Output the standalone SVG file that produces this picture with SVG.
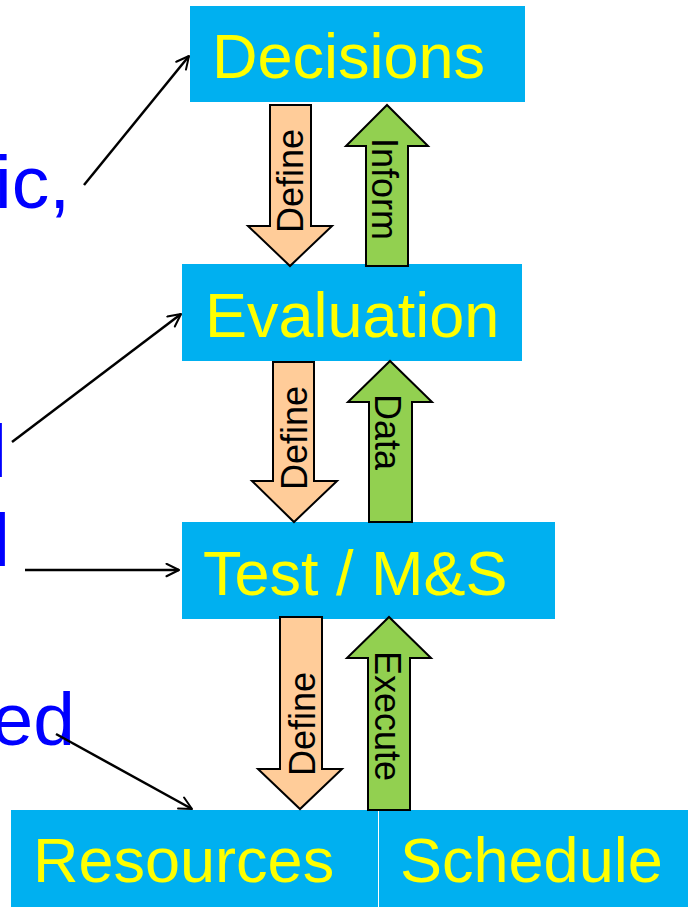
<svg xmlns="http://www.w3.org/2000/svg" width="693" height="909" viewBox="0 0 693 909">
<defs>
<style>
.box{fill:#00B0F0}
.bt{font-family:"Liberation Sans",Arial,sans-serif;font-size:63px;fill:#FFFF00}
.side{font-family:"Liberation Sans",Arial,sans-serif;font-size:75px;fill:#0000FF;text-anchor:end}
.def{fill:#FFCC99;stroke:#000;stroke-width:2}
.grn{fill:#92D050;stroke:#000;stroke-width:2}
.lbl{font-family:"Liberation Sans",Arial,sans-serif;font-size:36px;fill:#000;text-anchor:middle}
.con{fill:none;stroke:#000;stroke-width:2.5;marker-end:url(#open)}
</style>
<marker id="open" viewBox="0 0 12 12" refX="11" refY="6" markerWidth="6" markerHeight="6" markerUnits="strokeWidth" orient="auto">
<path d="M1,1 L11,6 L1,11" fill="none" stroke="#000" stroke-width="1.6" stroke-linecap="round" stroke-linejoin="round"/>
</marker>
</defs>
<rect width="693" height="909" fill="#fff"/>
<g id="side-text">
<text class="side" x="70" y="208">ic,</text>
<text class="side" x="7" y="477">l</text>
<text class="side" x="10" y="566">l</text>
<text class="side" x="75" y="745">ed</text>
</g>
<g id="decisions"><rect class="box" x="190" y="6" width="335" height="96"/><text class="bt" x="212" y="78">Decisions</text></g>
<g id="evaluation"><rect class="box" x="182" y="264" width="340" height="97"/><text class="bt" x="205" y="337">Evaluation</text></g>
<g id="test"><rect class="box" x="182" y="522" width="373" height="97"/><text class="bt" x="203" y="595">Test / M&amp;S</text></g>
<g id="resources"><rect class="box" x="11" y="810" width="367" height="97"/><text class="bt" x="33" y="882">Resources</text></g>
<g id="schedule"><rect class="box" x="379" y="810" width="309" height="97"/><text class="bt" x="400" y="882">Schedule</text></g>
<g id="block-arrows">
<g id="define1"><polygon class="def" points="270,105 311,105 311,226 332,226 290,266 248,226 270,226"/><text class="lbl" transform="translate(303,181) rotate(-90)">Define</text></g>
<g id="inform"><polygon class="grn" points="366,266 408,266 408,146 428,146 387,105 346,146 366,146"/><text class="lbl" transform="translate(372,189) rotate(90)">Inform</text></g>
<g id="define2"><polygon class="def" points="273,362 314,362 314,481 337,481 294,522 252,481 273,481"/><text class="lbl" transform="translate(307,438) rotate(-90)">Define</text></g>
<g id="data"><polygon class="grn" points="369,522 412,522 412,402 432,402 390,361 348,402 369,402"/><text class="lbl" transform="translate(375,432) rotate(90)">Data</text></g>
<g id="define3"><polygon class="def" points="280,617 322,617 322,769 342,769 300,809 258,769 280,769"/><text class="lbl" transform="translate(315,724) rotate(-90)">Define</text></g>
<g id="execute"><polygon class="grn" points="368,810 410,810 410,658 431,658 389,617 347,658 368,658"/><text class="lbl" transform="translate(375,716) rotate(90)">Execute</text></g>
</g>
<g id="connectors">
<line class="con" x1="84" y1="185" x2="189" y2="56"/>
<line class="con" x1="12" y1="442" x2="181" y2="314"/>
<line class="con" x1="25" y1="570" x2="179" y2="570"/>
<line class="con" x1="56" y1="734" x2="192" y2="809"/>
</g>
</svg>
